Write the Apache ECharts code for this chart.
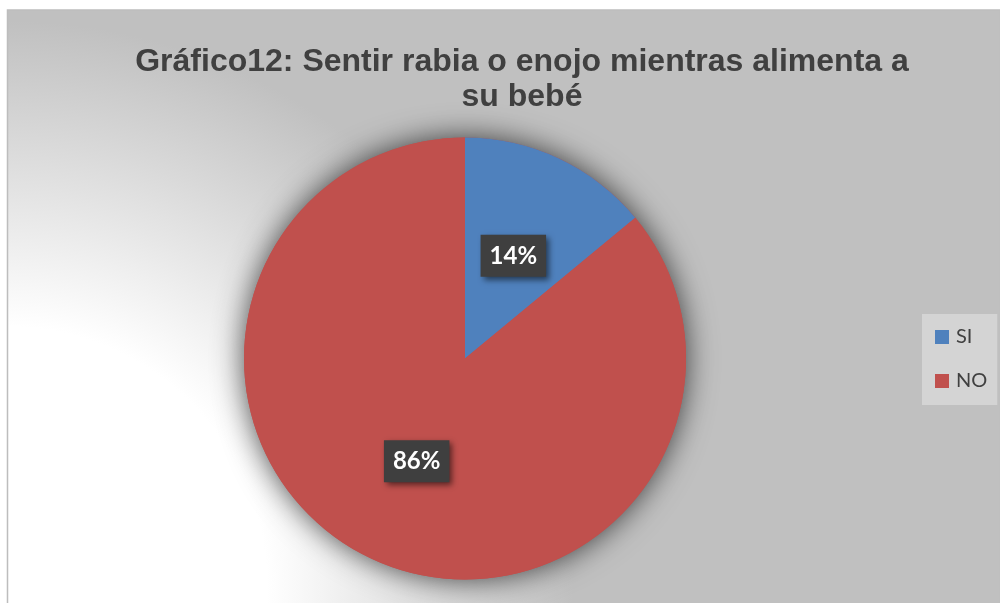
<!DOCTYPE html>
<html>
<head>
<meta charset="utf-8">
<script src="https://cdn.jsdelivr.net/npm/echarts@6/dist/echarts.min.js"></script>
<style>
  html, body { margin: 0; padding: 0; background: #ffffff; }
  #chart { width: 1000px; height: 603px; }
</style>
</head>
<body>
<div id="chart"></div>
<script>
// Answers to "Sentir rabia o enojo mientras alimenta a su bebé"
const categories = ['SI', 'NO'];
const values = [14, 86];
const colors = ['#4f81bd', '#c0504d'];
const titleText = 'Gráfico12: Sentir rabia o enojo mientras alimenta a\nsu bebé';

const total = values.reduce((a, b) => a + b, 0);
const pieCenter = [465, 358.5];
const pieRadius = 221;

const chart = echarts.init(document.getElementById('chart'), null, { renderer: 'canvas' });

chart.setOption({
  backgroundColor: '#ffffff',
  animation: false,
  graphic: [{
    type: 'rect',
    z: -10,
    silent: true,
    shape: { x: 7.5, y: 10, width: 993, height: 594 },
    style: {
      fill: new echarts.graphic.RadialGradient(0, 0.97, 0.95, [
        { offset: 0, color: '#ffffff' },
        { offset: 0.46, color: '#ffffff' },
        { offset: 1, color: '#c0c0c0' }
      ]),
      stroke: '#bdbdbd',
      lineWidth: 1.5
    }
  }],
  title: {
    text: titleText,
    left: 522,
    top: 45,
    padding: 0,
    textAlign: 'center',
    textStyle: {
      fontFamily: '"Liberation Sans", Arial, sans-serif',
      fontSize: 32,
      fontWeight: 'bold',
      lineHeight: 35,
      color: '#404040'
    }
  },
  legend: {
    data: categories,
    orient: 'vertical',
    left: 922,
    top: 314,
    padding: [13, 10, 14, 13],
    backgroundColor: '#d4d4d4',
    icon: 'rect',
    itemWidth: 14,
    itemHeight: 14,
    itemGap: 24,
    textStyle: {
      fontFamily: 'Lato, "Open Sans", sans-serif',
      fontSize: 20,
      lineHeight: 20,
      color: '#404040',
      padding: [0, 0, 0, 2]
    }
  },
  series: [
    {
      // soft glow behind the whole pie
      type: 'pie',
      silent: true,
      center: pieCenter,
      radius: pieRadius,
      z: 1,
      label: { show: false },
      labelLine: { show: false },
      data: [{ value: total, name: '' }],
      itemStyle: {
        color: colors[1],
        shadowBlur: 30,
        shadowColor: 'rgba(0,0,0,0.7)'
      }
    },
    {
      type: 'pie',
      center: pieCenter,
      radius: pieRadius,
      startAngle: 90,
      clockwise: true,
      z: 2,
      data: categories.map((name, i) => ({
        name: name,
        value: values[i],
        itemStyle: { color: colors[i] }
      })),
      label: {
        show: true,
        position: 'inside',
        formatter: '{d}%',
        fontFamily: 'Lato, "Open Sans", sans-serif',
        fontSize: 24,
        fontWeight: 'bold',
        lineHeight: 24,
        color: '#ffffff',
        backgroundColor: '#3f3f3f',
        padding: [9, 9],
        shadowColor: 'rgba(0,0,0,0.55)',
        shadowBlur: 6,
        shadowOffsetX: 3,
        shadowOffsetY: 3
      },
      labelLine: { show: false },
      emphasis: { disabled: true }
    }
  ]
});
</script>
</body>
</html>
